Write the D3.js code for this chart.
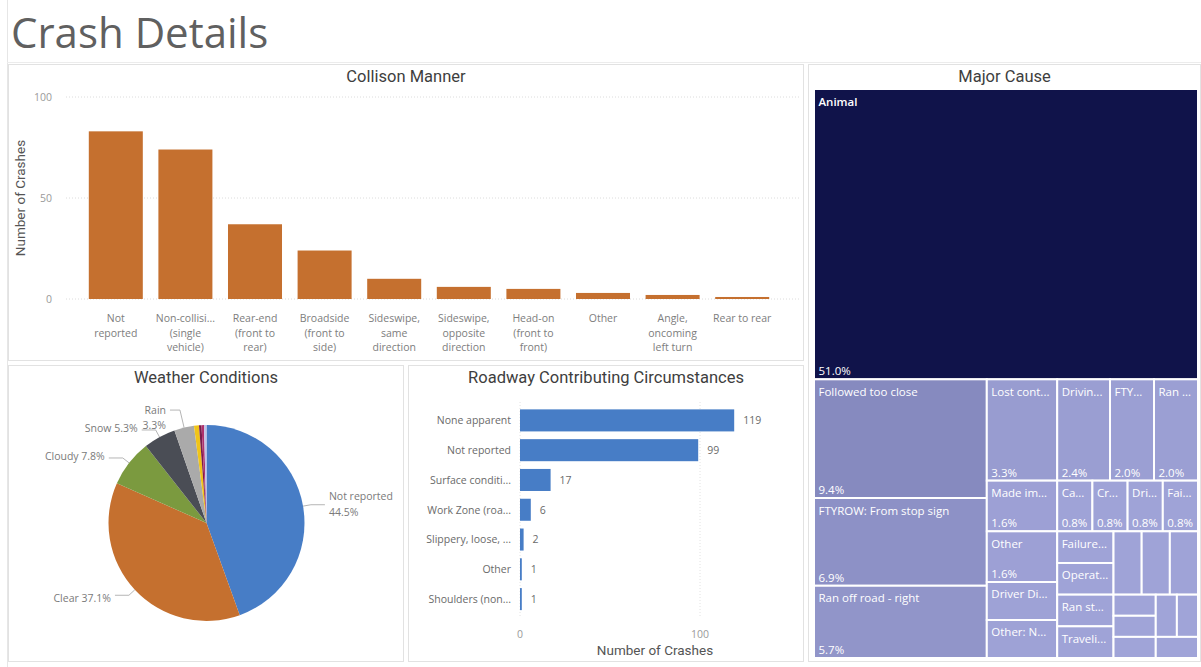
<!DOCTYPE html>
<html>
<head>
<meta charset="utf-8">
<script src="https://cdn.jsdelivr.net/npm/d3@7"></script>
<style>
  html, body { margin: 0; padding: 0; background: #ffffff; }
  svg { display: block; }
</style>
</head>
<body>
<svg id="chart" width="1201" height="667"></svg>
<script>
// ---------- data ----------
const collisionCategories = [
  "Not reported", "Non-collision (single vehicle)", "Rear-end (front to rear)",
  "Broadside (front to side)", "Sideswipe, same direction", "Sideswipe, opposite direction",
  "Head-on (front to front)", "Other", "Angle, oncoming left turn", "Rear to rear"
];
const collisionCounts = [83, 74, 37, 24, 10, 6, 5, 3, 2, 1];
const collisionTicks = [0, 50, 100];

const weatherCategories = ["Not reported", "Clear", "Cloudy", "Snow", "Rain",
  "Fog/Smog/Smoke", "Sleet/Hail", "Blowing snow", "Other"];
const weatherCounts = [109, 91, 19, 13, 8, 2, 1, 1, 1];

const roadwayCategories = [
  "None apparent", "Not reported", "Surface condition (wet, icy, snow, slush)",
  "Work Zone (road construction/maintenance)", "Slippery, loose, worn surface",
  "Other", "Shoulders (none, low, soft, high)"
];
const roadwayCounts = [119, 99, 17, 6, 2, 1, 1];
const roadwayTicks = [0, 100];

const causeNames = [
  "Animal", "Followed too close", "FTYROW: From stop sign", "Ran off road - right",
  "Lost control", "Driving too fast for conditions", "FTYROW: Making left turn",
  "Ran off road - left", "Made improper turn", "Other", "Driver Distracted",
  "Other: Non-driver factor", "Careless driving", "Crossed centerline",
  "Driver inattention", "Failed to keep in lane", "Failure to control",
  "Operating too fast", "Ran stop sign", "Traveling wrong way", "Unknown",
  "Unsafe lane change", "Vision obscured", "Disregarded traffic signal", "Fatigue",
  "Improper backing", "Improper passing", "Speeding", "Wrong side of road"
];
const causeCounts = [125, 23, 17, 14, 8, 6, 5, 5, 4, 4, 3, 3, 2, 2, 2, 2, 2, 2, 2, 2, 2, 2, 2, 1, 1, 1, 1, 1, 1];

// ---------- styling ----------
const TEXT_FONT = '"Open Sans", sans-serif';
const TITLE_FONT = 'Roboto, sans-serif';
const ORANGE = "#c5702f";
const BLUE = "#477dc6";
const weatherColors = ["#477dc6", "#c5702f", "#7b9a3f", "#4a4d55", "#aaaaaa",
  "#f0c419", "#7a1d4c", "#b0316c", "#c4c2e6"];

const svg = d3.select("#chart");

// text measuring helpers
const measureCtx = document.createElement("canvas").getContext("2d");
function textWidth(str, font) { measureCtx.font = font; return measureCtx.measureText(str).width; }
function truncate(str, font, maxW) {
  if (textWidth(str, font) <= maxW) return str;
  let s = str;
  while (s.length > 0 && textWidth(s + "...", font) > maxW) s = s.slice(0, -1);
  return s.length ? s + "..." : "";
}
function wrapLines(str, font, maxW) {
  const words = str.split(" ");
  const lines = [];
  let cur = "";
  for (const w of words) {
    const test = cur ? cur + " " + w : w;
    if (textWidth(test, font) <= maxW) cur = test;
    else { if (cur) lines.push(cur); cur = w; }
  }
  if (cur) lines.push(cur);
  return lines.map(l => truncate(l, font, maxW));
}

// ---------- page frame ----------
svg.append("line").attr("x1", 7.5).attr("x2", 7.5).attr("y1", 0).attr("y2", 667)
  .attr("stroke", "#e6e6e6");
svg.append("line").attr("x1", 7).attr("x2", 1201).attr("y1", 62.5).attr("y2", 62.5)
  .attr("stroke", "#ececec");
svg.append("text").attr("x", 11).attr("y", 48)
  .attr("font-family", TEXT_FONT).attr("font-size", 42).attr("fill", "#606060")
  .text("Crash Details");

const panels = [
  { x: 8.5, y: 64.5, w: 795, h: 296, title: "Collison Manner" },
  { x: 808.5, y: 64.5, w: 392, h: 597, title: "Major Cause" },
  { x: 8.5, y: 365.5, w: 395, h: 296, title: "Weather Conditions" },
  { x: 408.5, y: 365.5, w: 395, h: 296, title: "Roadway Contributing Circumstances" }
];
panels.forEach(p => {
  svg.append("rect").attr("x", p.x).attr("y", p.y).attr("width", p.w).attr("height", p.h)
    .attr("fill", "#ffffff").attr("stroke", "#e2e2e2");
  svg.append("text").attr("x", p.x + p.w / 2).attr("y", p.y + 17.5)
    .attr("text-anchor", "middle").attr("font-family", TITLE_FONT)
    .attr("font-size", 16.5).attr("font-weight", 400).attr("fill", "#3e3e3e")
    .text(p.title);
});

// ---------- Collision manner (column chart) ----------
{
  const x = d3.scaleBand().domain(collisionCategories).range([81, 777])
    .paddingInner(0.224).paddingOuter(0.112);
  const y = d3.scaleLinear().domain([0, d3.max(collisionTicks)]).range([299, 97]);
  const g = svg.append("g");

  g.selectAll("line.grid").data(collisionTicks).join("line")
    .attr("x1", 66).attr("x2", 800).attr("y1", d => y(d)).attr("y2", d => y(d))
    .attr("stroke", "#dcdcdc").attr("stroke-dasharray", "1,2");
  g.selectAll("text.tick").data(collisionTicks).join("text")
    .attr("x", 52).attr("y", d => y(d) + 3.8).attr("text-anchor", "end")
    .attr("font-family", TEXT_FONT).attr("font-size", 10.5).attr("fill", "#9a9a9a")
    .text(d => d);

  g.selectAll("rect.bar").data(collisionCounts).join("rect")
    .attr("x", (d, i) => x(collisionCategories[i])).attr("width", x.bandwidth())
    .attr("y", d => y(d)).attr("height", d => y(0) - y(d))
    .attr("fill", ORANGE);

  const lblFont = '10.5px "Open Sans"';
  collisionCategories.forEach(c => {
    const lines = wrapLines(c, lblFont, 62);
    const t = g.append("text").attr("text-anchor", "middle")
      .attr("font-family", TEXT_FONT).attr("font-size", 10.5).attr("fill", "#7d7d7d");
    lines.forEach((l, k) => {
      t.append("tspan").attr("x", x(c) + x.bandwidth() / 2).attr("y", y(0) + 23 + k * 14.5).text(l);
    });
  });

  g.append("text").attr("transform", `translate(25,${(y(0) + y(100)) / 2}) rotate(-90)`)
    .attr("text-anchor", "middle").attr("font-family", TITLE_FONT)
    .attr("font-size", 13.5).attr("fill", "#555").text("Number of Crashes");
}

// ---------- Weather conditions (pie) ----------
{
  const cx = 206.5, cy = 523, r = 98;
  const total = d3.sum(weatherCounts);
  const arcs = d3.pie().sort(null).value(d => d)(weatherCounts);
  const arc = d3.arc().innerRadius(0).outerRadius(r);
  const g = svg.append("g").attr("transform", `translate(${cx},${cy})`);
  g.selectAll("path").data(arcs).join("path")
    .attr("d", arc).attr("fill", (d, i) => weatherColors[i]);

  const pct = d3.format(".1%");
  const lbl = g.append("g").attr("font-family", TEXT_FONT).attr("font-size", 10.5).attr("fill", "#7a7a7a");
  arcs.forEach((a, i) => {
    const share = a.value / total;
    if (share < 0.03) return;
    const mid = (a.startAngle + a.endAngle) / 2;
    const dx = Math.sin(mid), dy = -Math.cos(mid);
    const nearTop = Math.abs(Math.sin(mid)) < 0.35 && dy < 0;
    const side = dx >= 0 ? 1 : -1;
    const ext = nearTop ? 18 : 8;
    const hlen = nearTop ? 10 : 14;
    const p0 = [r * dx, r * dy];
    const p1 = [(r + ext) * dx, (r + ext) * dy];
    const p2 = [p1[0] + side * hlen, p1[1]];
    lbl.append("polyline").attr("points", [p0, p1, p2].map(p => p.join(",")).join(" "))
      .attr("fill", "none").attr("stroke", "#b5b5b5").attr("stroke-width", 1);
    const tx = p2[0] + side * 4;
    const anchor = side > 0 ? "start" : "end";
    const name = weatherCategories[i];
    if (nearTop) {
      lbl.append("text").attr("x", tx).attr("y", p2[1] + 3.8).attr("text-anchor", anchor).text(name);
      lbl.append("text").attr("x", tx).attr("y", p2[1] + 18.5).attr("text-anchor", anchor).text(pct(share));
    } else if (side > 0) {
      lbl.append("text").attr("x", tx).attr("y", p2[1] - 4.5).attr("text-anchor", anchor).text(name);
      lbl.append("text").attr("x", tx).attr("y", p2[1] + 11.5).attr("text-anchor", anchor).text(pct(share));
    } else {
      lbl.append("text").attr("x", tx).attr("y", p2[1] + 3.8 + (dy > 0 ? 3 : -2)).attr("text-anchor", anchor)
        .text(name + " " + pct(share));
    }
  });
}

// ---------- Roadway contributing circumstances (bar chart) ----------
{
  const y = d3.scaleBand().domain(roadwayCategories).range([405.5, 614])
    .paddingInner(0.26).paddingOuter(0.13);
  const x = d3.scaleLinear().domain([0, 150]).range([520, 790]);
  const g = svg.append("g");

  g.selectAll("line.grid").data(roadwayTicks).join("line")
    .attr("x1", d => x(d)).attr("x2", d => x(d)).attr("y1", 402).attr("y2", 618)
    .attr("stroke", "#e2e2e2").attr("stroke-dasharray", "1,2");

  g.selectAll("rect.bar").data(roadwayCounts).join("rect")
    .attr("x", x(0)).attr("y", (d, i) => y(roadwayCategories[i]))
    .attr("width", d => x(d) - x(0)).attr("height", y.bandwidth())
    .attr("fill", BLUE);

  g.selectAll("text.val").data(roadwayCounts).join("text")
    .attr("x", d => x(d) + 9).attr("y", (d, i) => y(roadwayCategories[i]) + y.bandwidth() / 2 + 3.8)
    .attr("font-family", TEXT_FONT).attr("font-size", 10.5).attr("fill", "#6a6a6a")
    .text(d => d);

  const lblFont = '10.5px "Open Sans"';
  g.selectAll("text.cat").data(roadwayCategories).join("text")
    .attr("x", x(0) - 9).attr("y", d => y(d) + y.bandwidth() / 2 + 3.8)
    .attr("text-anchor", "end").attr("font-family", TEXT_FONT).attr("font-size", 10.5)
    .attr("fill", "#6a6a6a").text(d => truncate(d, lblFont, 86.5));

  g.selectAll("text.tick").data(roadwayTicks).join("text")
    .attr("x", d => x(d)).attr("y", 638).attr("text-anchor", "middle")
    .attr("font-family", TEXT_FONT).attr("font-size", 10.5).attr("fill", "#9a9a9a")
    .text(d => d);

  g.append("text").attr("x", (x.range()[0] + x.range()[1]) / 2).attr("y", 655)
    .attr("text-anchor", "middle").attr("font-family", TITLE_FONT)
    .attr("font-size", 13.5).attr("fill", "#555").text("Number of Crashes");
}

// ---------- Major cause (treemap) ----------
{
  const x0 = 814, y0 = 89, W = 384, H = 569;
  const total = d3.sum(causeCounts);
  const root = d3.hierarchy({ children: causeNames.map((n, i) => ({ name: n, value: causeCounts[i] })) })
    .sum(d => d.value || 0)
    .sort((a, b) => b.value - a.value || a.data.name.localeCompare(b.data.name));
  d3.treemap().tile(d3.treemapSquarify).size([W, H])(root);

  const color = d3.scaleLinear().domain([1, d3.max(causeCounts)]).range(["#a0a4d8", "#10134a"]);
  const pct = d3.format(".1%");
  const nameFont = '11.5px "Open Sans"';
  const g = svg.append("g").attr("transform", `translate(${x0},${y0})`);

  const cells = g.selectAll("g.cell").data(root.leaves()).join("g");
  cells.append("rect")
    .attr("x", d => d.x0).attr("y", d => d.y0)
    .attr("width", d => d.x1 - d.x0).attr("height", d => d.y1 - d.y0)
    .attr("fill", d => color(d.value)).attr("stroke", "#ffffff").attr("stroke-width", 2);

  cells.each(function (d) {
    const w = d.x1 - d.x0, h = d.y1 - d.y0;
    if (w < 30 || h < 28) return;
    const label = truncate(d.data.name, nameFont, w - 9.5);
    const c = d3.select(this);
    const dark = d.value === d3.max(causeCounts);
    c.append("text").attr("x", d.x0 + 4.5).attr("y", d.y0 + 16.5)
      .attr("font-family", TEXT_FONT).attr("font-size", 11.5).attr("fill", "#ffffff")
      .attr("font-weight", dark ? 600 : 400)
      .text(label);
    if (h >= 45) {
      c.append("text").attr("x", d.x0 + 4.5).attr("y", d.y1 - 4)
        .attr("font-family", TEXT_FONT).attr("font-size", 11.5).attr("fill", "#ffffff")
        .text(pct(d.value / total));
    }
  });
}
</script>
</body>
</html>
